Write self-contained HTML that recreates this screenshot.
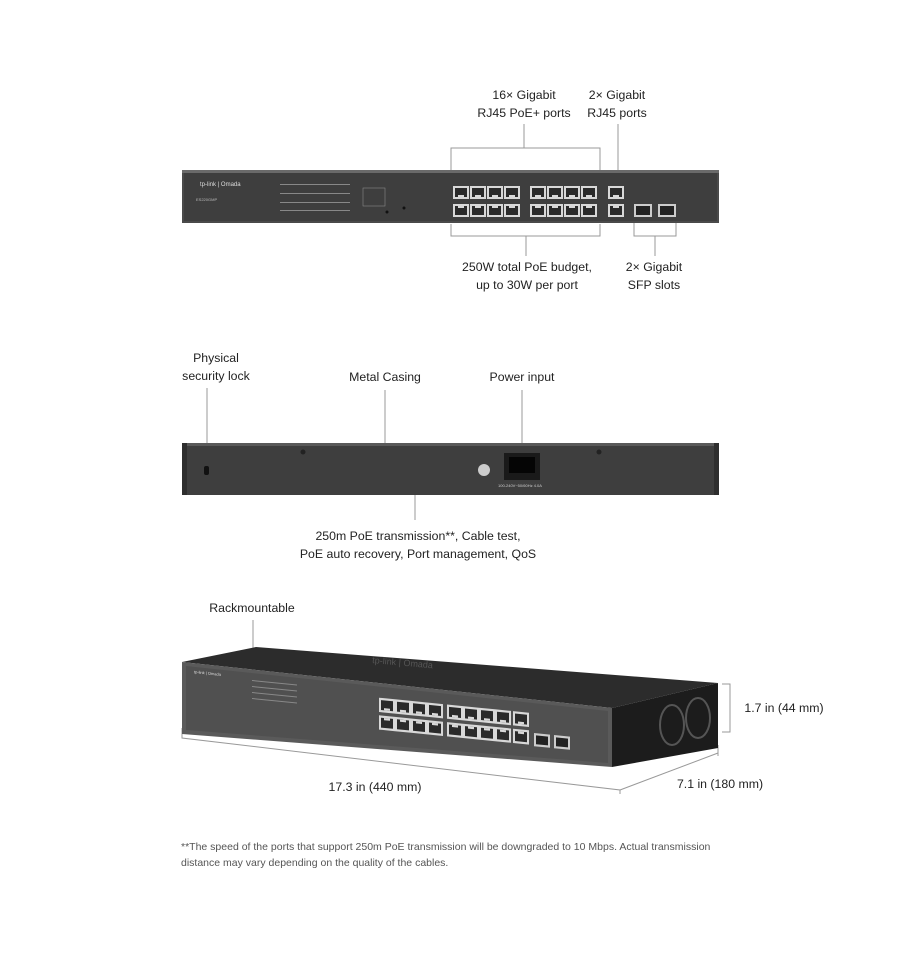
<!DOCTYPE html>
<html><head><meta charset="utf-8"><style>
html,body{margin:0;padding:0;background:#fff;}
svg{display:block;font-family:"Liberation Sans",sans-serif;}
</style></head><body>
<svg width="900" height="959" viewBox="0 0 900 959" xmlns="http://www.w3.org/2000/svg">
<defs>
<g id="rj"><rect x="0" y="0" width="16" height="13" fill="#d8d8d8"/><rect x="2" y="2" width="12" height="9" fill="#2a2a2a"/><rect x="5" y="9" width="6" height="2" fill="#d8d8d8"/></g>
<g id="rjd"><rect x="0" y="0" width="16" height="13" fill="#d8d8d8"/><rect x="2" y="2" width="12" height="9" fill="#2a2a2a"/><rect x="5" y="2" width="6" height="2" fill="#d8d8d8"/></g>
</defs>
<g font-size="12.3" fill="#222" text-anchor="middle">
<text x="524" y="99">16× Gigabit</text><text x="524" y="117">RJ45 PoE+ ports</text>
<text x="617" y="99">2× Gigabit</text><text x="617" y="117">RJ45 ports</text>
<text x="527" y="271">250W total PoE budget,</text><text x="527" y="289">up to 30W per port</text>
<text x="654" y="271">2× Gigabit</text><text x="654" y="289">SFP slots</text>
<text x="216" y="362">Physical</text><text x="216" y="380">security lock</text>
<text x="385" y="381">Metal Casing</text><text x="522" y="381">Power input</text>
<text x="418" y="540">250m PoE transmission**, Cable test,</text><text x="418" y="558">PoE auto recovery, Port management, QoS</text>
<text x="252" y="612">Rackmountable</text>
<text x="375" y="791">17.3 in (440 mm)</text>
<text x="720" y="788">7.1 in (180 mm)</text>
<text x="784" y="712">1.7 in (44 mm)</text>
</g>
<g stroke="#999" fill="none" stroke-width="1">
<polyline points="451,172 451,148 600,148 600,172"/><line x1="524" y1="124" x2="524" y2="148"/>
<line x1="618" y1="124" x2="618" y2="180"/>
<polyline points="451,224 451,236 600,236 600,224"/><line x1="526" y1="236" x2="526" y2="256"/>
<polyline points="634,220 634,236 676,236 676,220"/><line x1="655" y1="236" x2="655" y2="256"/>
<line x1="207" y1="388" x2="207" y2="460"/><line x1="385" y1="390" x2="385" y2="443"/>
<line x1="522" y1="390" x2="522" y2="454"/><line x1="415" y1="495" x2="415" y2="520"/>
<line x1="253" y1="620" x2="253" y2="652"/>
<polyline points="182,728 182,738 620,790 620,794"/>
<line x1="620" y1="790" x2="718" y2="753"/><line x1="718" y1="745" x2="718" y2="756"/>
<polyline points="722,684 730,684 730,732 722,732"/>
</g>
<!-- front panel -->
<rect x="182" y="170" width="537" height="53" fill="#4a4a4a"/>
<rect x="182" y="170" width="537" height="3" fill="#6a6a6a"/>
<rect x="184" y="173" width="533" height="48" fill="#3e3e3e"/>
<text x="200" y="186" font-size="6" fill="#ddd">tp-link | Omada</text>
<text x="196" y="201" font-size="4" fill="#bbb">ES220GMP</text>
<g fill="#888"><rect x="280" y="184" width="70" height="1"/><rect x="280" y="193" width="70" height="1"/><rect x="280" y="202" width="70" height="1"/><rect x="280" y="210" width="70" height="1"/></g>
<rect x="363" y="188" width="22" height="18" fill="none" stroke="#888" stroke-width="0.6"/>
<circle cx="387" cy="212" r="1.5" fill="#111"/><circle cx="404" cy="208" r="1.5" fill="#111"/>
<g>
<use href="#rj" x="453" y="186"/><use href="#rj" x="470" y="186"/><use href="#rj" x="487" y="186"/><use href="#rj" x="504" y="186"/>
<use href="#rj" x="530" y="186"/><use href="#rj" x="547" y="186"/><use href="#rj" x="564" y="186"/><use href="#rj" x="581" y="186"/>
<use href="#rjd" x="453" y="204"/><use href="#rjd" x="470" y="204"/><use href="#rjd" x="487" y="204"/><use href="#rjd" x="504" y="204"/>
<use href="#rjd" x="530" y="204"/><use href="#rjd" x="547" y="204"/><use href="#rjd" x="564" y="204"/><use href="#rjd" x="581" y="204"/>
<use href="#rj" x="608" y="186"/><use href="#rjd" x="608" y="204"/>
</g>
<rect x="634" y="204" width="18" height="13" fill="#ccc"/><rect x="636" y="206" width="14" height="9" fill="#222"/>
<rect x="658" y="204" width="18" height="13" fill="#ccc"/><rect x="660" y="206" width="14" height="9" fill="#222"/>
<!-- rear -->
<rect x="182" y="443" width="537" height="52" fill="#3e3e3e"/>
<rect x="182" y="443" width="537" height="3" fill="#5a5a5a"/>
<rect x="182" y="443" width="5" height="52" fill="#2e2e2e"/><rect x="714" y="443" width="5" height="52" fill="#2e2e2e"/>
<rect x="204" y="466" width="5" height="9" rx="2" fill="#111"/>
<circle cx="303" cy="452" r="2.5" fill="#222"/><circle cx="599" cy="452" r="2.5" fill="#222"/>
<circle cx="484" cy="470" r="6" fill="#ccc"/>
<rect x="504" y="453" width="36" height="27" fill="#1a1a1a"/><rect x="509" y="457" width="26" height="16" fill="#050505"/>
<text x="498" y="487" font-size="4" fill="#ccc">100-240V~50/60Hz 4.0A</text>
<!-- 3D -->
<polygon points="182,662 256,647 718,683 612,708" fill="#2c2c2c"/>
<polygon points="182,662 612,708 612,767 182,734" fill="#5a5a5a"/>
<polygon points="186,666 608,711 608,763 186,730" fill="#505050"/>
<polygon points="612,708 718,683 718,748 612,767" fill="#1c1c1c"/>
<ellipse cx="672" cy="725" rx="12" ry="20" fill="none" stroke="#555" stroke-width="2"/>
<ellipse cx="698" cy="718" rx="12" ry="20" fill="none" stroke="#555" stroke-width="2"/>
<text x="372" y="663" font-size="9" fill="#555" transform="rotate(5 372 663)">tp-link | Omada</text>
<g transform="matrix(1,0.1,0,1,182,662)">
<g transform="translate(197,16) scale(1,1.1)">
<use href="#rj" x="0" y="0"/><use href="#rj" x="16" y="0"/><use href="#rj" x="32" y="0"/><use href="#rj" x="48" y="0"/>
<use href="#rj" x="68" y="0"/><use href="#rj" x="84" y="0"/><use href="#rj" x="100" y="0"/><use href="#rj" x="116" y="0"/>
<use href="#rjd" x="0" y="16"/><use href="#rjd" x="16" y="16"/><use href="#rjd" x="32" y="16"/><use href="#rjd" x="48" y="16"/>
<use href="#rjd" x="68" y="16"/><use href="#rjd" x="84" y="16"/><use href="#rjd" x="100" y="16"/><use href="#rjd" x="116" y="16"/>
<use href="#rj" x="134" y="0"/><use href="#rjd" x="134" y="16"/>
<rect x="155" y="18" width="16" height="12" fill="#ccc"/><rect x="157" y="20" width="12" height="8" fill="#222"/>
<rect x="175" y="18" width="16" height="12" fill="#ccc"/><rect x="177" y="20" width="12" height="8" fill="#222"/>
</g>
<text x="12" y="10" font-size="4" fill="#ddd">tp-link | Omada</text>
<g fill="#888"><rect x="70" y="11" width="45" height="1"/><rect x="70" y="17" width="45" height="1"/><rect x="70" y="23" width="45" height="1"/><rect x="70" y="29" width="45" height="1"/></g>
</g>
<g font-size="10.5" fill="#555">
<text x="181" y="850">**The speed of the ports that support 250m PoE transmission will be downgraded to 10 Mbps. Actual transmission</text>
<text x="181" y="866">distance may vary depending on the quality of the cables.</text>
</g>
</svg>
</body></html>
